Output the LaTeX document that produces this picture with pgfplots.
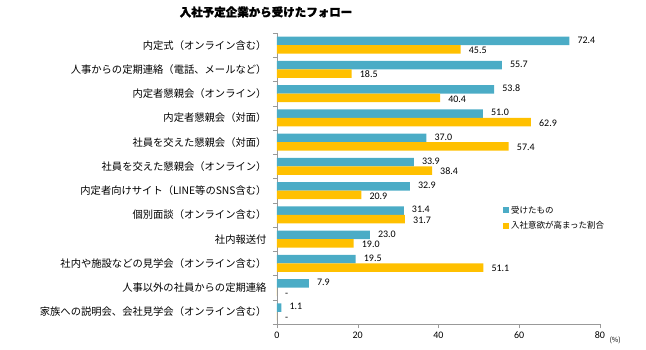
\documentclass[border=0pt]{standalone}
\usepackage{pgfplots}
\pgfplotsset{compat=1.18}
\usepackage{pgfplotstable}
\usepackage{fontspec}
\setmainfont{Noto Sans CJK JP}
\newfontfamily\titlefont[BoldFeatures={FakeBold=1.5}]{Noto Sans CJK JP}
\newfontfamily\num{Carlito}
\definecolor{cblue}{HTML}{4BACC6}
\definecolor{corange}{HTML}{FFC000}

\pgfplotstableread[col sep=comma]{
y,x,lab
0,72.4,72.4
1,55.7,55.7
2,53.8,53.8
3,51.0,51.0
4,37.0,37.0
5,33.9,33.9
6,32.9,32.9
7,31.4,31.4
8,23.0,23.0
9,19.5,19.5
10,7.9,7.9
11,1.1,1.1
}\bluedata

\pgfplotstableread[col sep=comma]{
y,x,lab
0,45.5,45.5
1,18.5,18.5
2,40.4,40.4
3,62.9,62.9
4,57.4,57.4
5,38.4,38.4
6,20.9,20.9
7,31.7,31.7
8,19.0,19.0
9,51.1,51.1
10,0,-
11,0,-
}\orangedata

\begin{document}
\begin{tikzpicture}
\useasboundingbox (-277pt,-26pt) rectangle (369pt,324pt);
\begin{axis}[
  at={(0,0)}, anchor=south west,
  scale only axis, width=323pt, height=291pt,
  font=\fontsize{10}{12}\selectfont,
  xbar, bar width=8.5pt,
  xmin=0, xmax=80,
  ymin=-0.5, ymax=11.5, y dir=reverse,
  axis lines*=left,
  axis line style={gray!80},
  tick align=outside,
  major tick length=4pt, minor tick length=4pt,
  xtick={0,20,40,60,80},
  ytick={0,...,11},
  minor ytick={-0.5,0.5,...,11.5},
  major y tick style={draw=none},
  minor y tick style={gray!80},
  major x tick style={gray!80},
  yticklabels={内定式（オンライン含む）,人事からの定期連絡（電話、メールなど）,内定者懇親会（オンライン）,内定者懇親会（対面）,社員を交えた懇親会（対面）,社員を交えた懇親会（オンライン）,内定者向けサイト（LINE等のSNS含む）,個別面談（オンライン含む）,社内報送付,社内や施設などの見学会（オンライン含む）,人事以外の社員からの定期連絡,家族への説明会、会社見学会（オンライン含む）},
  yticklabel style={font=\fontsize{10.3}{12}\selectfont, xshift=-3pt},
  xticklabel style={font=\num\fontsize{10}{12}\selectfont},
  /pgf/number format/assume math mode=true,
  nodes near coords={\pgfplotspointmeta},
  point meta=explicit symbolic,
  every node near coord/.append style={font=\num\fontsize{10}{12}\selectfont, anchor=west, inner sep=0pt, text height=6.5pt, text depth=0pt, xshift=8pt, text=black},
  clip=false,
  legend style={at={(0.69,0.42)}, anchor=north west, draw=none, fill=none,
    font=\fontsize{8.5}{10}\selectfont, row sep=3pt, cells={anchor=west}},
  legend image code/.code={\fill[#1] (0pt,-3pt) rectangle (6pt,3pt);},
]
\addplot[fill=cblue, draw=none, bar shift=4.25pt,
  every node near coord/.append style={yshift=1pt}] table[x=x, y=y, meta=lab] {\bluedata};
\addplot[fill=corange, draw=none, bar shift=-4.25pt,
  every node near coord/.append style={yshift=-1pt}] table[x=x, y=y, meta=lab] {\orangedata};
\legend{受けたもの,入社意欲が高まった割合}
\node[anchor=west, font=\fontsize{7}{8}\selectfont, xshift=6pt, yshift=-16pt] at (axis cs:80,11.5) {(\%)};
\end{axis}
\node[font=\titlefont\bfseries\fontsize{11.5}{13}\selectfont] at (-11pt,312pt) {入社予定企業から受けたフォロー};
\end{tikzpicture}
\end{document}
